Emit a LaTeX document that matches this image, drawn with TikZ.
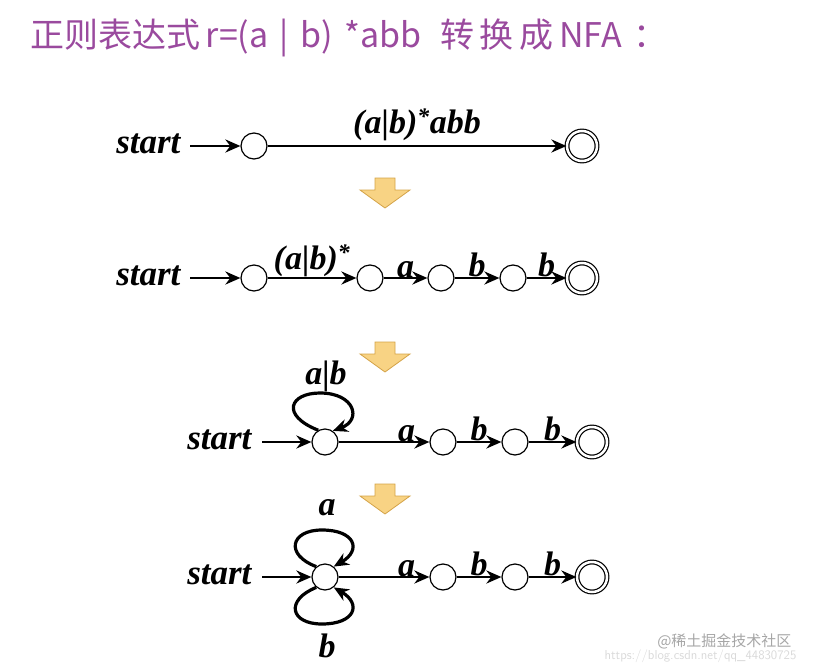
\documentclass[tikz,border=0pt]{standalone}
\usepackage{fontspec}
\setmainfont{Liberation Serif}
\newfontfamily\cjk{Noto Sans CJK SC}
\usetikzlibrary{arrows.meta}
\definecolor{ttl}{HTML}{9A4A9E}
\definecolor{blkf}{HTML}{F8D384}
\definecolor{blkd}{HTML}{D4A348}
\begin{document}
\begin{tikzpicture}[x=1pt,y=-1pt,
 st/.style={circle,draw,line width=1.2pt,minimum size=26pt,inner sep=0pt,fill=white},
 acc/.style={circle,draw,line width=1.2pt,double,double distance=2.5pt,minimum size=30pt,inner sep=0pt,fill=white},
 lab/.style={font=\bfseries\itshape\fontsize{35}{35}\selectfont},
 el/.style={font=\bfseries\itshape\fontsize{34}{34}\selectfont},
 ed/.style={line width=2.6pt,-{Stealth[length=15pt,width=13pt]}},
 lp/.style={line width=3.2pt,-{Stealth[length=15pt,width=13pt]}},
 blk/.style={fill=blkf,draw=blkd,line width=0.8pt}]
\useasboundingbox (0,0) rectangle (814,672);
\node[anchor=west,text=ttl,font=\cjk\fontsize{34}{34}\selectfont,inner sep=0pt] (title) at (30,38) {正则表达式\,r=(a\,\,|\,\,b)\,\,*abb\,\, 转\,换\,成\,NFA\,\,：};
% row1
\node[lab,anchor=east] (s1) at (184,144) {start};
\node[st] (a1) at (254,146) {};
\node[acc] (f1) at (582,146) {};
\draw[ed] (190,146) -- (a1);
\draw[ed] (a1) -- node[el,above=1pt] {(a|b)\textsuperscript{*}abb} (f1);
% arrows
\foreach \y in {178,342,484}
 \draw[blk] (375,\y) -- (395,\y) -- (395,\y+12) -- (410,\y+12) -- (385,\y+30) -- (360,\y+12) -- (375,\y+12) -- cycle;
% row2
\node[lab,anchor=east] (s2) at (184,276) {start};
\node[st] (a2) at (254,278) {};
\node[st] (b2) at (370,278) {};
\node[st] (c2) at (441,278) {};
\node[st] (d2) at (513,278) {};
\node[acc] (f2) at (582,278) {};
\draw[ed] (190,278) -- (a2);
\draw[ed] (a2) -- node[el,above=-3pt,pos=0.5] {(a|b)\textsuperscript{*}} (b2);
\draw[ed] (b2) -- node[el,above=-4pt] {a} (c2);
\draw[ed] (c2) -- node[el,above=-4pt] {b} (d2);
\draw[ed] (d2) -- node[el,above=-4pt] {b} (f2);
% row3
\node[lab,anchor=east] (s3) at (255,440) {start};
\node[st] (a3) at (325,442) {};
\node[st] (b3) at (443,442) {};
\node[st] (c3) at (515,442) {};
\node[acc] (f3) at (592,442) {};
\draw[ed] (262,442) -- (a3);
\draw[lp] (a3.120) .. controls (280,415) and (290,393) .. (320,393) .. controls (355,393) and (362,420) .. (a3.55);
\node[el] (l3) at (326,376) {a|b};
\draw[ed] (a3) -- node[el,above=-4pt,pos=0.75] {a} (b3);
\draw[ed] (b3) -- node[el,above=-4pt] {b} (c3);
\draw[ed] (c3) -- node[el,above=-4pt] {b} (f3);
% row4
\node[lab,anchor=east] (s4) at (255,575) {start};
\node[st] (a4) at (325,577) {};
\node[st] (b4) at (443,577) {};
\node[st] (c4) at (515,577) {};
\node[acc] (f4) at (592,577) {};
\draw[ed] (262,577) -- (a4);
\draw[lp] (a4.130) .. controls (285,555) and (290,530) .. (322,530) .. controls (355,530) and (362,550) .. (a4.50);
\draw[lp] (a4.230) .. controls (285,600) and (290,624) .. (322,624) .. controls (355,624) and (362,604) .. (a4.-50);
\node[el] (l4a) at (327,508) {a};
\node[el] (l4b) at (327,646) {b};
\draw[ed] (a4) -- node[el,above=-4pt,pos=0.75] {a} (b4);
\draw[ed] (b4) -- node[el,above=-4pt] {b} (c4);
\draw[ed] (c4) -- node[el,above=-4pt] {b} (f4);
% watermark
\node[anchor=east,text=gray!70,font=\cjk\fontsize{15}{15}\selectfont] (wm) at (795,641) {@稀土掘金技术社区};
\node[anchor=east,text=gray!30,font=\sffamily\fontsize{13}{13}\selectfont] (wm2) at (800,656) {https://blog.csdn.net/qq\_44830725};
\end{tikzpicture}
\end{document}
